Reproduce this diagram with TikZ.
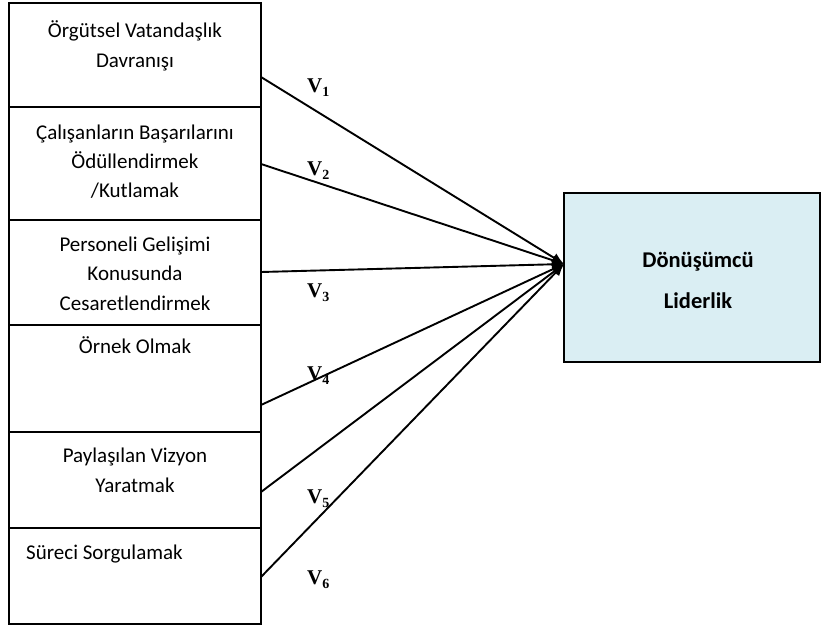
\documentclass[tikz,border=0pt]{standalone}
\usepackage{fontspec}
\setmainfont{Carlito}
\newfontfamily\timesf{Liberation Serif}
\usetikzlibrary{arrows.meta}
\definecolor{rbfill}{HTML}{DAEEF3}
\newcommand\vlab[1]{{\timesf\bfseries\fontsize{21}{21}\selectfont V\raisebox{-4pt}{\fontsize{14}{14}\selectfont #1}}}
\begin{document}
\begin{tikzpicture}[x=1pt,y=-1pt,
  box/.style={draw, line width=2pt, inner sep=0pt, outer sep=0pt, minimum width=252pt, anchor=north west},
  lbl/.style={inner sep=0pt, anchor=base, font=\fontsize{21}{25}\selectfont},
  blbl/.style={inner sep=0pt, anchor=base, font=\bfseries\fontsize{22.5}{26}\selectfont},
  vl/.style={inner sep=0pt, anchor=base west},
  conn/.style={line width=1.9pt, -{Latex[length=12pt,width=10pt]}}]
\useasboundingbox (0,0) rectangle (821,627);
% left boxes
\node[box, minimum height=104pt] (b1) at (9,3) {};
\node[box, minimum height=113pt] (b2) at (9,107) {};
\node[box, minimum height=105pt] (b3) at (9,220) {};
\node[box, minimum height=107pt] (b4) at (9,325) {};
\node[box, minimum height=96pt] (b5) at (9,432) {};
\node[box, minimum height=96pt] (b6) at (9,528) {};
% right box
\node[draw, line width=2pt, fill=rbfill, inner sep=0pt, outer sep=0pt, minimum width=256pt, minimum height=169pt, anchor=north west] (rb) at (564,193) {};
% texts
\node[lbl] (t1a) at (135,37) {Örgütsel Vatandaşlık};
\node[lbl] (t1b) at (135,67) {Davranışı};
\node[lbl] (t2a) at (135,139) {Çalışanların Başarılarını};
\node[lbl] (t2b) at (135,168) {Ödüllendirmek};
\node[lbl] (t2c) at (135,197) {/Kutlamak};
\node[lbl] (t3a) at (135,251) {Personeli Gelişimi};
\node[lbl] (t3b) at (135,280) {Konusunda};
\node[lbl] (t3c) at (135,310) {Cesaretlendirmek};
\node[lbl] (t4a) at (135,353) {Örnek Olmak};
\node[lbl] (t5a) at (135,462) {Paylaşılan Vizyon};
\node[lbl] (t5b) at (135,492) {Yaratmak};
\node[lbl, anchor=base west] (t6a) at (26,559) {Süreci Sorgulamak};
\node[blbl] (r1) at (698,267) {Dönüşümcü};
\node[blbl] (r2) at (698,308) {Liderlik};
% connector ends
\coordinate (s1) at (b1.east |- 0,77);
\coordinate (s2) at (b2.east |- 0,164);
\coordinate (s3) at (b3.east |- 0,272);
\coordinate (s4) at (b4.east |- 0,405);
\coordinate (s5) at (b5.east |- 0,492);
\coordinate (s6) at (b6.east |- 0,577);
\coordinate (tg) at (rb.west |- 0,264);
\foreach \i in {1,...,6} {\draw[conn] (s\i) -- (tg);}
% labels
\node[vl] (v1) at (307,92) {\vlab{1}};
\node[vl] (v2) at (307,175) {\vlab{2}};
\node[vl] (v3) at (307,297) {\vlab{3}};
\node[vl] (v4) at (307,380) {\vlab{4}};
\node[vl] (v5) at (307,503) {\vlab{5}};
\node[vl] (v6) at (307,584) {\vlab{6}};
\end{tikzpicture}
\end{document}
